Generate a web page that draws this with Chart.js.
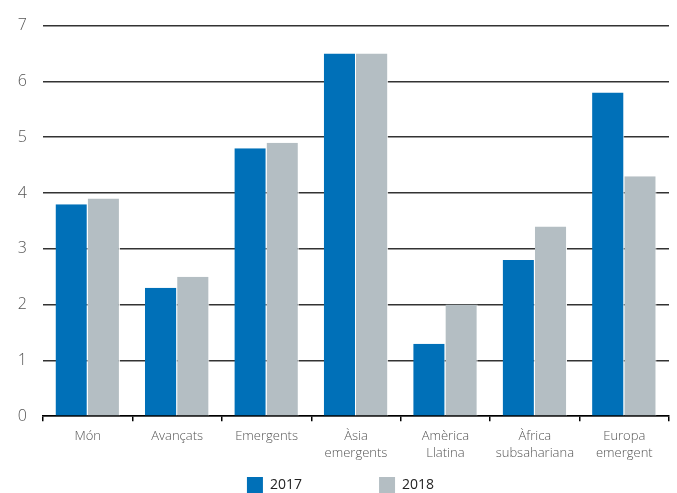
<!DOCTYPE html>
<html>
<head>
<meta charset="utf-8">
<script src="https://cdn.jsdelivr.net/npm/chart.js@4/dist/chart.umd.min.js"></script>
<style>
  html, body { margin: 0; padding: 0; background: #fff; }
  #wrap { width: 677px; height: 493px; }
</style>
</head>
<body>
<div id="wrap"><canvas id="mycanvas"></canvas></div>
<script>
var categories = [
	["Món"], ["Avançats"], ["Emergents"], ["Àsia", "emergents"],
	["Amèrica", "Llatina"], ["Àfrica", "subsahariana"], ["Europa", "emergent"]
];
var values2017 = [3.8, 2.3, 4.8, 6.5, 1.3, 2.8, 5.8];
var values2018 = [3.9, 2.5, 4.9, 6.5, 2.0, 3.4, 4.3];
var yTicks = [0, 1, 2, 3, 4, 5, 6, 7];

var chartdata = {
	labels: categories,
	datasets: [
		{
			label: '2017',
			data: values2017,
			backgroundColor: "#0070b8",
			borderColor: "#ffffff",
			borderWidth: { left: 0, right: 1, top: 0, bottom: 0 },
			borderSkipped: false
		},
		{
			label: '2018',
			data: values2018,
			backgroundColor: "#b4bec3",
			borderColor: "#ffffff",
			borderWidth: { left: 0, right: 1, top: 0, bottom: 0 },
			borderSkipped: false
		}
	]
};

// wider gap between the two legend entries
var legendGap = '\u00a0'.repeat(19);

var ctx = document.getElementById("mycanvas");
var barGraph = new Chart(ctx, {
	type: 'bar',
	data: chartdata,
	options: {
		responsive: true,
		maintainAspectRatio: false,
		animation: false,
		datasets: { bar: { categoryPercentage: 0.72, barPercentage: 1.0 } },
		layout: { padding: { left: 12, right: 8, top: 14, bottom: -10 } },
		plugins: {
			tooltip: { enabled: false },
			legend: {
				position: 'bottom',
				labels: {
					boxWidth: 16, boxHeight: 16, padding: 8,
					color: "#222",
					font: { family: "'Open Sans'", size: 14 },
					generateLabels: function(chart) {
						var items = Chart.defaults.plugins.legend.labels.generateLabels(chart);
						items.forEach(function(it, i) {
							it.lineWidth = 0;
							if (i === 0) it.text = it.text + legendGap;
						});
						return items;
					}
				}
			}
		},
		scales: {
			x: {
				grid: {
					display: true, offset: true, drawOnChartArea: false,
					drawTicks: true, tickLength: 5, color: "#000", lineWidth: 1.5
				},
				border: { display: true, color: "#000", width: 1.5 },
				ticks: {
					color: "#555", padding: 7,
					font: { family: "'Open Sans'", size: 13, weight: 300, lineHeight: 1.3 }
				}
			},
			y: {
				min: 0, max: 7,
				afterBuildTicks: function(scale) {
					scale.ticks = yTicks.map(function(v) { return { value: v }; });
				},
				afterFit: function(scale) { scale.width = 31; },
				grid: { color: "#333", lineWidth: 1.5, drawTicks: false },
				border: { display: false },
				ticks: {
					color: "#555", padding: 16,
					font: { family: "'Open Sans'", size: 16, weight: 300 }
				}
			}
		}
	}
});
</script>
</body>
</html>
